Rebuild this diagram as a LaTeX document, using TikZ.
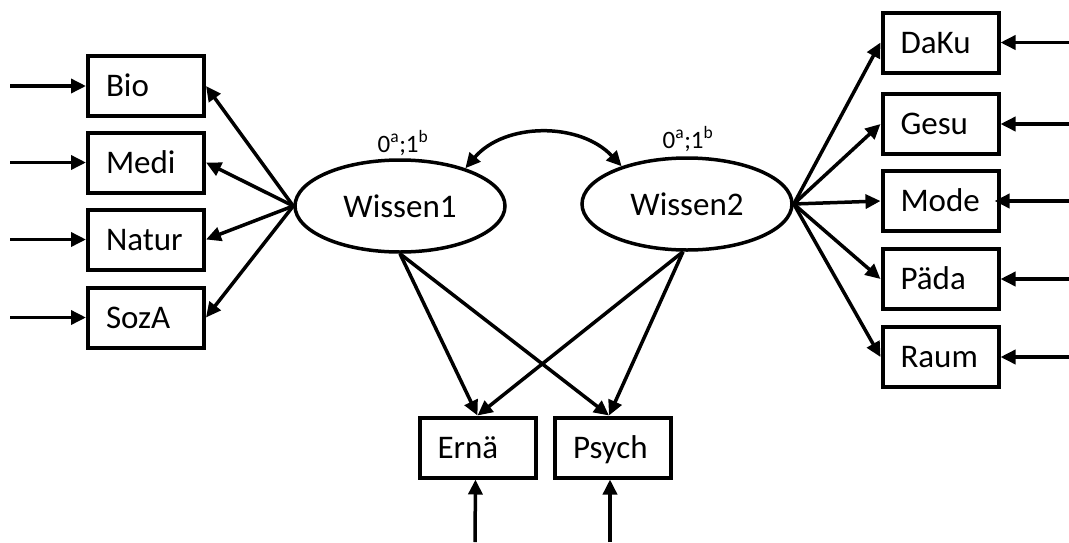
\documentclass[tikz,border=0pt]{standalone}
\usepackage{fontspec}
\setmainfont{Carlito}
\usetikzlibrary{arrows.meta,shapes.geometric}

\tikzset{
  obs/.style={draw, line width=4pt, minimum height=60pt, inner xsep=18pt,
    text width=80pt, align=left, text height=21pt, text depth=0pt,
    font=\fontsize{33}{38}\selectfont},
  latent/.style={draw, ellipse, line width=3.5pt, minimum width=210pt,
    minimum height=92pt, inner sep=0pt, font=\fontsize{33}{38}\selectfont},
  lbl/.style={anchor=base, inner sep=0pt, font=\fontsize{25}{30}\selectfont},
  arr/.style={line width=3.5pt, -{Triangle[length=15pt,width=14pt]}},
  cov/.style={line width=3.5pt, {Triangle[length=15pt,width=14pt]}-{Triangle[length=15pt,width=14pt]}}
}

\begin{document}
\begin{tikzpicture}[x=1pt, y=-1pt]
\useasboundingbox (0,0) rectangle (1069,542);

% latent factors
\node[latent] (W1) at (400,206) {Wissen1};
\node[latent] (W2) at (687,204) {Wissen2};
\node[lbl] (L1) at (403,152) {0\textsuperscript{a};1\textsuperscript{b}};
\node[lbl] (L2) at (688,148) {0\textsuperscript{a};1\textsuperscript{b}};

% indicators of Wissen1
\node[obs] (Bio)   at (146,86)    {Bio};
\node[obs] (Medi)  at (146,162.5) {Medi};
\node[obs] (Natur) at (146,239.5) {Natur};
\node[obs] (SozA)  at (146,317.5) {SozA};

% indicators of Wissen2
\node[obs] (DaKu) at (940.5,42.5) {DaKu};
\node[obs] (Gesu) at (940.5,124)  {Gesu};
\node[obs] (Mode) at (940.5,201)  {Mode};
\node[obs] (Paeda) at (940.5,279) {Päda};
\node[obs] (Raum) at (940.5,357)  {Raum};

% cross-loaded indicators
\node[obs] (Erna)  at (477.5,447.5) {Ernä};
\node[obs] (Psych) at (613,447.5)   {Psych};

% error terms (free ends)
\coordinate (eBio)   at (10,86);
\coordinate (eMedi)  at (10,162.5);
\coordinate (eNatur) at (10,239.5);
\coordinate (eSozA)  at (10,317.5);
\coordinate (eDaKu)  at (1069,42.5);
\coordinate (eGesu)  at (1069,124);
\coordinate (eMode)  at (1069,201);
\coordinate (ePaeda) at (1069,279);
\coordinate (eRaum)  at (1069,357);
\coordinate (eErna)  at (475,542);
\coordinate (ePsych) at (610,542);

\draw[arr] (eBio) -- (Bio.west);
\draw[arr] (eMedi) -- (Medi.west);
\draw[arr] (eNatur) -- (Natur.west);
\draw[arr] (eSozA) -- (SozA.west);
\draw[arr] (eDaKu) -- (DaKu.east);
\draw[arr] (eGesu) -- (Gesu.east);
\draw[arr] (eMode) -- ([xshift=-6pt]Mode.east);
\draw[arr] (ePaeda) -- (Paeda.east);
\draw[arr] (eRaum) -- (Raum.east);
\draw[arr] (eErna) -- ([xshift=-2pt]Erna.south);
\draw[arr] (ePsych) -- ([xshift=-3pt]Psych.south);

% loadings
\draw[arr] (W1.west) -- (Bio.east);
\draw[arr] (W1.west) -- (Medi.east);
\draw[arr] (W1.west) -- (Natur.east);
\draw[arr] (W1.west) -- (SozA.east);
\draw[arr] (W2.east) -- (DaKu.west);
\draw[arr] (W2.east) -- (Gesu.west);
\draw[arr] (W2.east) -- (Mode.west);
\draw[arr] (W2.east) -- (Paeda.west);
\draw[arr] (W2.east) -- (Raum.west);
\draw[arr] (W1.south) -- (Erna.north);
\draw[arr] (W1.south) -- ([xshift=-4pt]Psych.north);
\draw[arr] ([xshift=-4pt]W2.south) -- (Erna.north);
\draw[arr] ([xshift=-4pt]W2.south) -- ([xshift=-4pt]Psych.north);

% factor covariance
\draw[cov] (W1.30) .. controls (505,122) and (580,122) .. (W2.150);
\end{tikzpicture}
\end{document}
